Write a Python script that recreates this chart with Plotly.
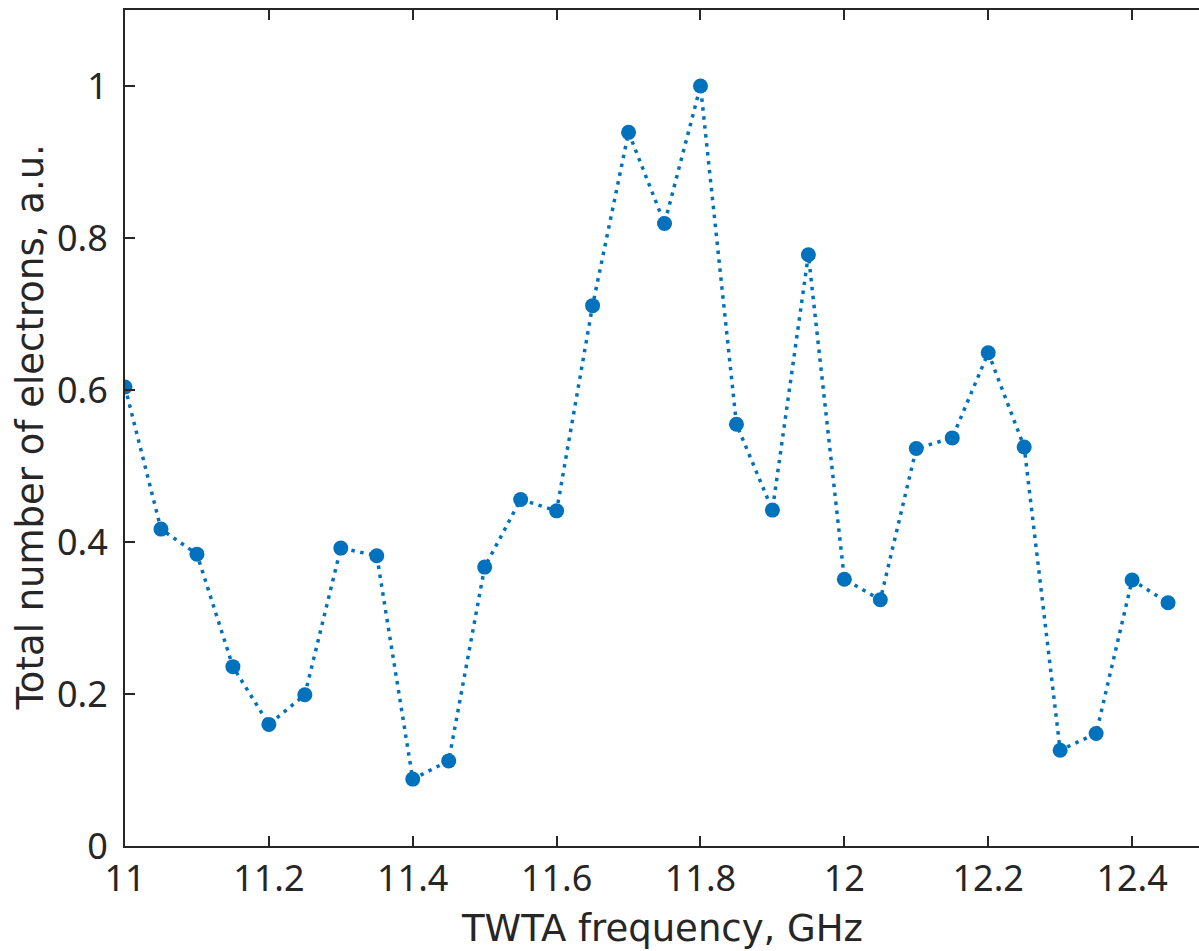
import plotly.graph_objects as go

# TWTA frequency sweep (GHz) and normalised total electron count
freq_ghz = [11.00, 11.05, 11.10, 11.15, 11.20, 11.25, 11.30, 11.35, 11.40, 11.45,
            11.50, 11.55, 11.60, 11.65, 11.70, 11.75, 11.80, 11.85, 11.90, 11.95,
            12.00, 12.05, 12.10, 12.15, 12.20, 12.25, 12.30, 12.35, 12.40, 12.45]
electrons_au = [0.604, 0.417, 0.384, 0.236, 0.160, 0.199, 0.392, 0.382, 0.088, 0.112,
                0.367, 0.456, 0.441, 0.711, 0.939, 0.819, 1.000, 0.555, 0.442, 0.778,
                0.351, 0.324, 0.523, 0.537, 0.649, 0.525, 0.126, 0.148, 0.350, 0.320]

x_ticks = [11, 11.2, 11.4, 11.6, 11.8, 12, 12.2, 12.4]
x_tick_labels = ["11", "11.2", "11.4", "11.6", "11.8", "12", "12.2", "12.4"]
y_ticks = [0, 0.2, 0.4, 0.6, 0.8, 1]
y_tick_labels = ["0", "0.2", "0.4", "0.6", "0.8", "1"]

TICK_FONT = "Noto Sans"
TITLE_FONT = "DejaVu Sans"
TXT = "#262626"
BLUE = "#0072BD"
X_RANGE = [11, 12.493]
Y_RANGE = [0, 1.1]

fig = go.Figure()
fig.add_trace(go.Scatter(
    x=freq_ghz, y=electrons_au, mode="lines+markers",
    line=dict(color=BLUE, width=3.5, dash="3.5px,5.5px"),
    marker=dict(color=BLUE, size=15, line=dict(width=0)),
    showlegend=False,
))

axis_common = dict(
    showgrid=False, zeroline=False,
    linecolor=TXT, linewidth=2,
    ticks="inside", ticklen=10, tickwidth=2, tickcolor=TXT,
    tickfont=dict(family=TICK_FONT, size=36, color=TXT),
)

fig.update_layout(
    width=1199, height=951,
    margin=dict(l=125, r=0, t=10, b=105),
    paper_bgcolor="white", plot_bgcolor="white",
    xaxis=dict(range=X_RANGE, tickvals=x_ticks, ticktext=x_tick_labels,
               showline=True, mirror="ticks", ticklabelstandoff=0, **axis_common),
    yaxis=dict(range=Y_RANGE, tickvals=y_ticks, ticktext=y_tick_labels,
               showline=True, ticklabelstandoff=8, **axis_common),
    yaxis2=dict(range=Y_RANGE, tickvals=y_ticks, overlaying="y", side="right",
                showline=False, showgrid=False, zeroline=False,
                ticks="inside", ticklen=6, tickwidth=2, tickcolor=TXT,
                showticklabels=False),
    annotations=[
        dict(text="TWTA frequency, GHz", xref="paper", yref="paper",
             x=0.5, y=0, yshift=-59, xanchor="center", yanchor="top",
             showarrow=False, font=dict(family=TITLE_FONT, size=37, color=TXT)),
        dict(text="Total number of electrons, a.u.", xref="paper", yref="paper",
             x=0, y=0.5, xshift=-72, xanchor="right", yanchor="middle",
             textangle=-90, showarrow=False,
             font=dict(family=TITLE_FONT, size=37, color=TXT)),
    ],
)

fig.write_html("out.html")
